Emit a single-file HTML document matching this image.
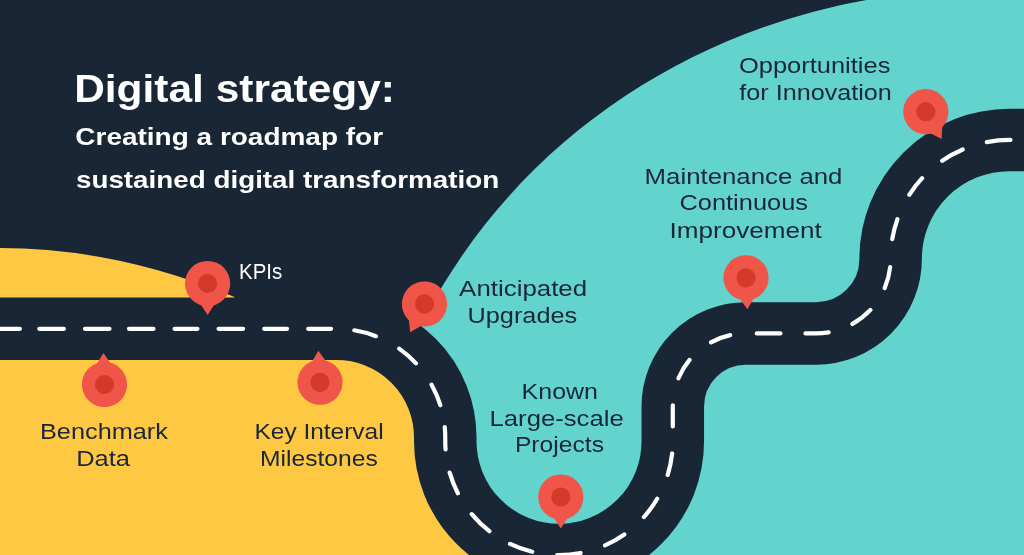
<!DOCTYPE html>
<html>
<head>
<meta charset="utf-8">
<style>
html,body{margin:0;padding:0;width:1024px;height:555px;overflow:hidden;background:#192635;}
svg{display:block;will-change:transform;}
text{font-family:"Liberation Sans",sans-serif;}
.t{font-weight:bold;fill:#ffffff;}
.l{fill:#1b2637;}
.w{fill:#ffffff;}
</style>
</head>
<body>
<svg width="1024" height="555" viewBox="0 0 1024 555">
  <defs>
    <g id="pin">
      <path d="M-14,10 L0,31.6 L14,10 Z" fill="#f0554a"/>
      <circle cx="0" cy="0" r="22.6" fill="#f0554a"/>
      <circle cx="0" cy="0" r="9.6" fill="#d43a2a"/>
    </g>
  </defs>
  <rect x="0" y="0" width="1024" height="555" fill="#192635"/>
  <path d="M869.4,-0.5 C694.8,30.05 538.3,129.8 445.2,281.6 L410,339 L445,441 L446,560 L1030,560 L1030,-5 L880,-5 Z" fill="#63d3cd"/>
  <path d="M-10,248 L0,248 Q117,248 234.5,297 L234.5,330 L-10,330 Z" fill="#fec843"/>
  <path d="M-10,328.83 L336.6,328.83 A108.67,108.67 0 0 1 445.27,437.5 L445.27,441.27 A113.76,113.76 0 0 0 559.03,555.03 L559,560 L-10,560 Z" fill="#fec843"/>
  <path d="M-20,328.83 L336.60,328.83 A108.67,108.67 0 0 1 445.27,437.50 L445.27,441.27 A113.76,113.76 0 0 0 672.79,441.27 L672.79,406.50 A73.09,73.09 0 0 1 745.88,333.41 L816.13,333.41 A74.48,74.48 0 0 0 890.61,258.93 L890.61,258.75 A118.78,118.78 0 0 1 1009.39,139.97 L1100,139.97" fill="none" stroke="#192635" stroke-width="62.5"/>
  <path d="M-20,328.83 L336.60,328.83 A108.67,108.67 0 0 1 445.27,437.50 L445.27,441.27 A113.76,113.76 0 0 0 672.79,441.27 L672.79,406.50 A73.09,73.09 0 0 1 745.88,333.41 L816.13,333.41 A74.48,74.48 0 0 0 890.61,258.93 L890.61,258.75 A118.78,118.78 0 0 1 1009.39,139.97 L1100,139.97" fill="none" stroke="#ffffff" stroke-width="4.2" stroke-linecap="round" stroke-dasharray="0.00 15.79 24.10 19.42 24.55 21.11 24.55 19.42 24.55 21.11 22.86 21.11 24.55 21.11 22.86 21.11 22.86 23.41 22.32 26.45 22.32 26.45 22.32 22.17 22.69 23.43 22.19 25.22 24.43 24.33 23.53 25.22 23.53 25.67 22.19 26.12 22.64 26.12 21.74 27.16 21.21 27.80 21.41 27.80 20.55 26.71 23.69 25.03 23.29 25.31 22.77 26.19 21.60 28.25 20.58 27.11 21.05 26.65 23.39 25.24 23.80 2000.00"/>
  <use href="#pin" transform="translate(207.6,283.5) rotate(0)"/>
  <use href="#pin" transform="translate(104.5,384.5) rotate(178)"/>
  <use href="#pin" transform="translate(320,382.3) rotate(177)"/>
  <use href="#pin" transform="translate(424.5,304) rotate(27)"/>
  <use href="#pin" transform="translate(560.8,497) rotate(0)"/>
  <use href="#pin" transform="translate(746,277.8) rotate(-2.5)"/>
  <use href="#pin" transform="translate(925.8,111.7) rotate(-30)"/>
  <text class="t" x="74.18" y="102.30" font-size="39.5" textLength="320.80" lengthAdjust="spacingAndGlyphs">Digital strategy:</text>
  <text class="t" x="75.31" y="144.60" font-size="24.5" textLength="307.81" lengthAdjust="spacingAndGlyphs">Creating a roadmap for</text>
  <text class="t" x="75.96" y="187.80" font-size="24.5" textLength="423.25" lengthAdjust="spacingAndGlyphs">sustained digital transformation</text>
  <text class="w" x="238.99" y="279.20" font-size="22.3" textLength="43.21" lengthAdjust="spacingAndGlyphs">KPIs</text>
  <text class="l" x="40.00" y="438.60" font-size="22.3" textLength="127.92" lengthAdjust="spacingAndGlyphs">Benchmark</text>
  <text class="l" x="76.20" y="465.80" font-size="22.3" textLength="53.86" lengthAdjust="spacingAndGlyphs">Data</text>
  <text class="l" x="254.47" y="438.90" font-size="22.3" textLength="129.13" lengthAdjust="spacingAndGlyphs">Key Interval</text>
  <text class="l" x="260.00" y="465.80" font-size="22.3" textLength="117.81" lengthAdjust="spacingAndGlyphs">Milestones</text>
  <text class="l" x="459.14" y="296.10" font-size="22.3" textLength="128.01" lengthAdjust="spacingAndGlyphs">Anticipated</text>
  <text class="l" x="467.50" y="323.00" font-size="22.3" textLength="109.72" lengthAdjust="spacingAndGlyphs">Upgrades</text>
  <text class="l" x="521.59" y="398.70" font-size="22.3" textLength="76.39" lengthAdjust="spacingAndGlyphs">Known</text>
  <text class="l" x="489.52" y="425.60" font-size="22.3" textLength="134.25" lengthAdjust="spacingAndGlyphs">Large-scale</text>
  <text class="l" x="514.90" y="452.10" font-size="22.3" textLength="89.07" lengthAdjust="spacingAndGlyphs">Projects</text>
  <text class="l" x="644.62" y="183.60" font-size="22.3" textLength="197.84" lengthAdjust="spacingAndGlyphs">Maintenance and</text>
  <text class="l" x="679.48" y="210.40" font-size="22.3" textLength="128.50" lengthAdjust="spacingAndGlyphs">Continuous</text>
  <text class="l" x="669.60" y="237.70" font-size="22.3" textLength="152.20" lengthAdjust="spacingAndGlyphs">Improvement</text>
  <text class="l" x="738.93" y="72.90" font-size="22.3" textLength="151.46" lengthAdjust="spacingAndGlyphs">Opportunities</text>
  <text class="l" x="739.29" y="100.10" font-size="22.3" textLength="152.56" lengthAdjust="spacingAndGlyphs">for Innovation</text>
</svg>
</body>
</html>
